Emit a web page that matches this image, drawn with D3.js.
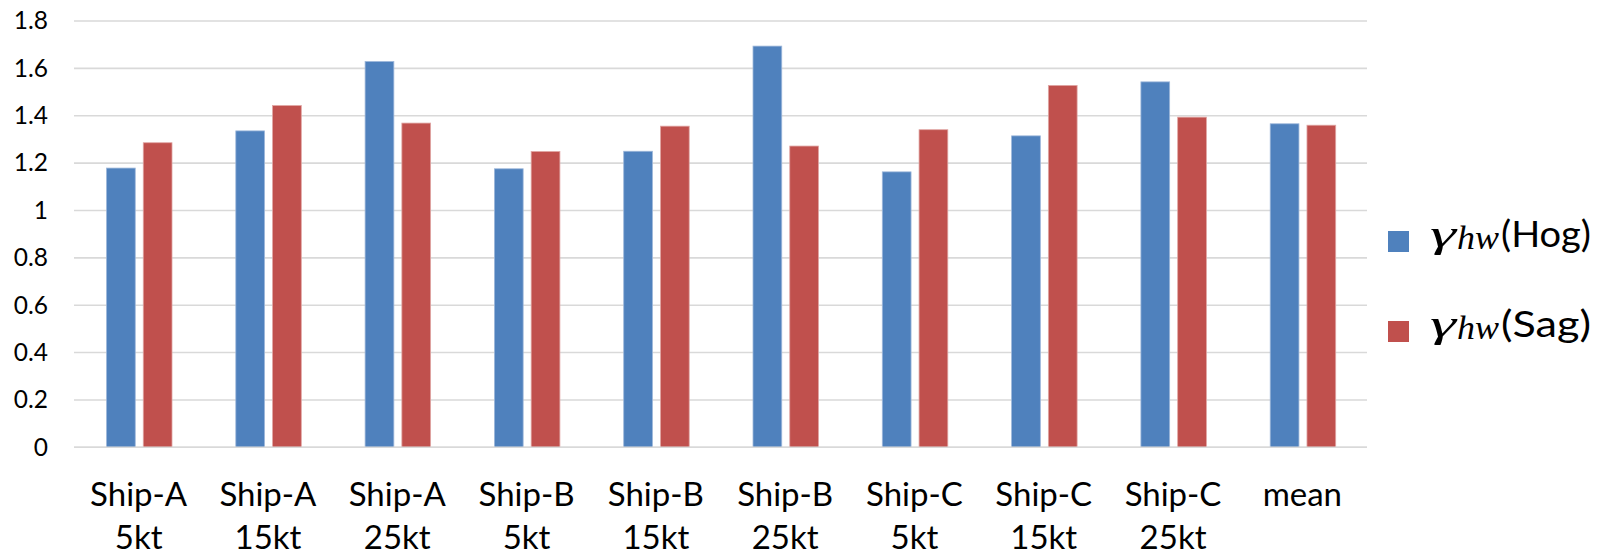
<!DOCTYPE html>
<html>
<head>
<meta charset="utf-8">
<script src="https://cdn.jsdelivr.net/npm/d3@7/dist/d3.min.js"></script>
<style>
  html, body { margin: 0; padding: 0; background: #fff; }
  svg { display: block; }
</style>
</head>
<body>
<svg id="chart" width="1608" height="556"></svg>
<script>
// ---- data ----
const categories = ["Ship-A 5kt", "Ship-A 15kt", "Ship-A 25kt", "Ship-B 5kt", "Ship-B 15kt",
                    "Ship-B 25kt", "Ship-C 5kt", "Ship-C 15kt", "Ship-C 25kt", "mean"];
const categoryLine1 = ["Ship-A", "Ship-A", "Ship-A", "Ship-B", "Ship-B", "Ship-B", "Ship-C", "Ship-C", "Ship-C", "mean"];
const categoryLine2 = ["5kt", "15kt", "25kt", "5kt", "15kt", "25kt", "5kt", "15kt", "25kt", ""];
const hogValues = [1.179, 1.336, 1.629, 1.176, 1.250, 1.694, 1.163, 1.315, 1.543, 1.366];
const sagValues = [1.286, 1.443, 1.369, 1.249, 1.356, 1.272, 1.341, 1.528, 1.394, 1.360];
const seriesNames = ["Hog", "Sag"];
const seriesColors = ["#4F81BD", "#C0504D"];
const yTickValues = [0, 0.2, 0.4, 0.6, 0.8, 1.0, 1.2, 1.4, 1.6, 1.8];
const yTickLabels = ["0", "0.2", "0.4", "0.6", "0.8", "1", "1.2", "1.4", "1.6", "1.8"];

// ---- layout ----
const svg = d3.select("#chart");
const plot = { left: 74, right: 1367, top: 21, bottom: 447.3 };
const FONT = "Lato, 'Open Sans', sans-serif";
const SERIF = "'Liberation Serif', 'DejaVu Serif', serif";

const x = d3.scaleBand().domain(categories).range([plot.left, plot.right]).paddingInner(0).paddingOuter(0);
const bw = x.bandwidth();
const xs = d3.scaleBand().domain(seriesNames)
  .range([0.2514 * bw, 0.758 * bw]).paddingInner(0.218).paddingOuter(0);
const y = d3.scaleLinear().domain([0, 1.8]).range([plot.bottom, plot.top]);

// gridlines
svg.append("g").selectAll("line").data(yTickValues).join("line")
  .attr("x1", plot.left).attr("x2", plot.right)
  .attr("y1", d => y(d)).attr("y2", d => y(d))
  .attr("stroke", "#D9D9D9").attr("stroke-width", 1.6);

// y axis labels
const yAxis = d3.axisLeft(y).tickValues(yTickValues)
  .tickFormat((d, i) => yTickLabels[i]).tickSize(0).tickPadding(26);
const gy = svg.append("g").attr("transform", `translate(${plot.left},0)`).call(yAxis);
gy.select(".domain").remove();
gy.selectAll("text").attr("font-family", FONT).attr("font-size", 24.5).attr("fill", "#000");

// bars
const rows = categories.map((c, i) => ({ cat: c, vals: [hogValues[i], sagValues[i]] }));
const groups = svg.append("g").selectAll("g").data(rows).join("g")
  .attr("transform", d => `translate(${x(d.cat)},0)`);
groups.selectAll("rect").data(d => d.vals.map((v, k) => ({ v, k })))
  .join("rect")
  .attr("x", d => xs(seriesNames[d.k]))
  .attr("width", xs.bandwidth())
  .attr("y", d => y(d.v))
  .attr("height", d => y(0) - y(d.v))
  .attr("fill", d => seriesColors[d.k])
  .attr("stroke", d => d.k === 0 ? "#9DB7DA" : "#E0A6A4")
  .attr("stroke-width", 0.8);

// x axis line
svg.append("line").attr("x1", plot.left).attr("x2", plot.right)
  .attr("y1", plot.bottom).attr("y2", plot.bottom)
  .attr("stroke", "#D9D9D9").attr("stroke-width", 1.6);

// x labels (two lines)
const xl = svg.append("g").selectAll("text").data(categories).join("text")
  .attr("x", d => x(d) + bw / 2)
  .attr("text-anchor", "middle")
  .attr("font-family", FONT).attr("font-size", 33).attr("fill", "#000");
xl.append("tspan").attr("x", d => x(d) + bw / 2).attr("y", 506).text((d, i) => categoryLine1[i]);
xl.append("tspan").attr("x", d => x(d) + bw / 2).attr("y", 549).text((d, i) => categoryLine2[i]);

// legend
const legendY = [241.4, 331.4];
const lg = svg.append("g").selectAll("g").data(seriesNames).join("g")
  .attr("transform", (d, i) => `translate(1388,${legendY[i]})`);
lg.append("rect").attr("x", 0).attr("y", -10.4).attr("width", 21).attr("height", 21)
  .attr("fill", (d, i) => seriesColors[i]);
lg.append("text").attr("x", 42).attr("y", 5.5).attr("fill", "#000")
  .attr("font-family", SERIF).attr("font-style", "italic").attr("font-size", 38)
  .attr("textLength", 26).attr("lengthAdjust", "spacingAndGlyphs").text("γ");
lg.append("text").attr("x", 69).attr("y", 8).attr("fill", "#000")
  .attr("font-family", SERIF).attr("font-style", "italic").attr("font-size", 33)
  .attr("textLength", 42).attr("lengthAdjust", "spacingAndGlyphs").text("hw");
lg.append("text").attr("x", 113).attr("y", 6).attr("fill", "#000")
  .attr("font-family", FONT).attr("font-size", 36)
  .attr("textLength", 90).attr("lengthAdjust", "spacingAndGlyphs")
  .text(d => "(" + d + ")");
</script>
</body>
</html>
